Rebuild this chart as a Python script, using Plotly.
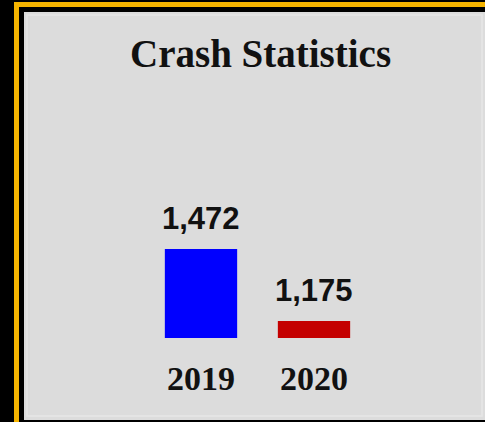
import plotly.graph_objects as go

W, H = 485, 422

# ---- data ----
years = ["2019", "2020"]
crashes = [1472, 1175]
bar_colors = ["#0000ff", "#c40000"]
value_labels = ["1,472", "1,175"]
title_text = "Crash Statistics"

def px_x(p):
    return p / W

def px_y(p):
    return 1 - p / H

fig = go.Figure()
fig.add_trace(go.Bar(
    x=years, y=crashes, marker=dict(color=bar_colors, line=dict(width=0)),
    width=0.64, showlegend=False, hoverinfo="skip",
))

shapes = [
    # orange frame line
    dict(type="rect", xref="paper", yref="paper", x0=px_x(14), x1=px_x(500),
         y0=px_y(440), y1=px_y(2), fillcolor="#f5b400", line=dict(width=0), layer="below"),
    # black gap
    dict(type="rect", xref="paper", yref="paper", x0=px_x(19), x1=px_x(500),
         y0=px_y(440), y1=px_y(7), fillcolor="#000000", line=dict(width=0), layer="below"),
    # gray panel
    dict(type="rect", xref="paper", yref="paper", x0=px_x(24), x1=px_x(490),
         y0=px_y(420), y1=px_y(12), fillcolor="#dcdcdc", line=dict(width=0), layer="below"),
    # subtle lighter inner edge
    dict(type="rect", xref="paper", yref="paper", x0=px_x(27), x1=px_x(482),
         y0=px_y(416), y1=px_y(15), fillcolor="rgba(0,0,0,0)",
         line=dict(width=1.5, color="#e6e6e6"), layer="below"),
]

annotations = [
    dict(text=f"<b>{title_text}</b>", xref="paper", yref="paper",
         x=px_x(260), y=px_y(77), xanchor="center", yanchor="bottom",
         showarrow=False, font=dict(family="Liberation Serif", size=39, color="#111111")),
]
for i, (v, lab) in enumerate(zip(crashes, value_labels)):
    annotations.append(dict(
        text=f"<b>{lab}</b>", x=i, y=v, xref="x", yref="y",
        xanchor="center", yanchor="bottom", yshift=11, showarrow=False,
        font=dict(family="Liberation Sans", size=31, color="#111111"),
    ))

base = 1105
units_per_px = 4.125
top_px = 150
fig.update_layout(
    width=W, height=H, autosize=False,
    margin=dict(l=0, r=0, t=0, b=0, pad=0),
    paper_bgcolor="#000000", plot_bgcolor="rgba(0,0,0,0)",
    shapes=shapes, annotations=annotations, bargap=0.36,
    xaxis=dict(domain=[px_x(144.5), px_x(370.5)], type="category", range=[-0.5, 1.5],
               showgrid=False, zeroline=False, showline=False, ticks="",
               tickfont=dict(family="Liberation Serif", size=34, color="#111111"),
               ticklabelstandoff=17, fixedrange=True),
    yaxis=dict(domain=[px_y(338), px_y(top_px)],
               range=[base, base + (338 - top_px) * units_per_px],
               visible=False, fixedrange=True),
)
fig.update_xaxes(tickprefix="<b>", ticksuffix="</b>")

fig.write_html("out.html", config={"displayModeBar": False},
               post_script="document.body.style.margin='0';document.body.style.overflow='hidden';")
